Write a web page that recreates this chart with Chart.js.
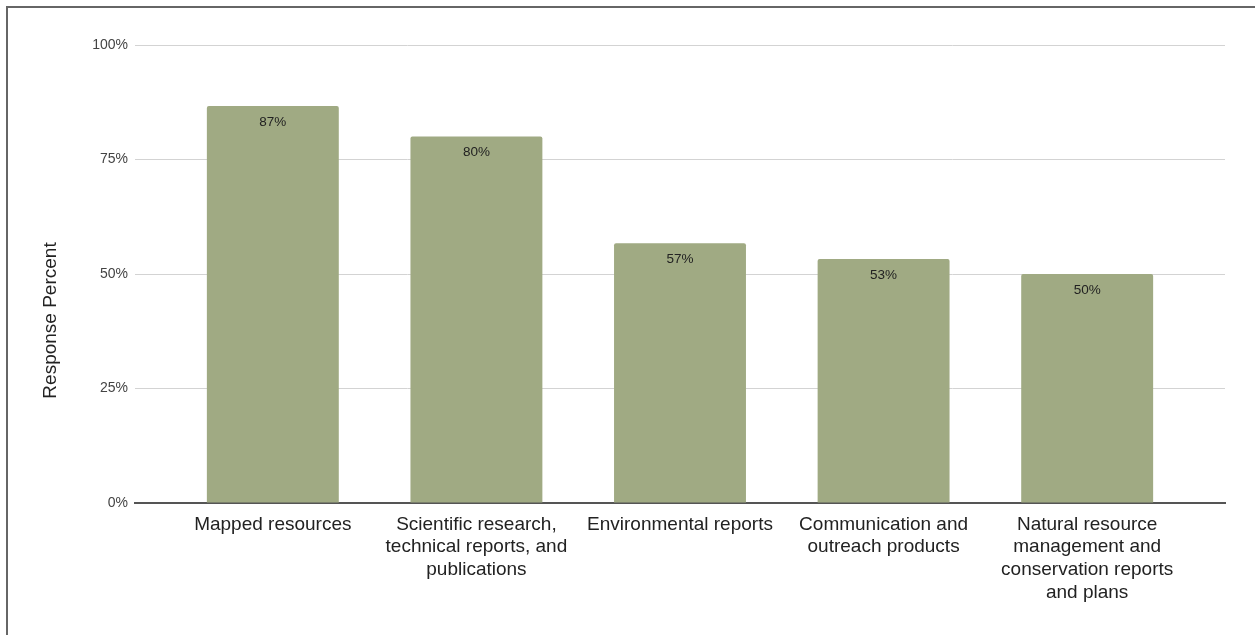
<!DOCTYPE html>
<html>
<head>
<meta charset="utf-8">
<script src="https://cdn.jsdelivr.net/npm/chart.js@4/dist/chart.umd.min.js"></script>
<style>
  html, body { margin: 0; padding: 0; background: #fff; overflow: hidden; }
  #frame {
    position: absolute; left: 6px; top: 6px; width: 1400px; height: 800px;
    border-left: 2px solid #666; border-top: 2px solid #666;
  }
  #chart { position: absolute; left: 0; top: 0; }
</style>
</head>
<body>
<div id="frame"></div>
<canvas id="chart" width="1255" height="635"></canvas>
<script>
// survey responses, share of respondents per product type
const categories = [
  ['Mapped resources'],
  ['Scientific research,', 'technical reports, and', 'publications'],
  ['Environmental reports'],
  ['Communication and', 'outreach products'],
  ['Natural resource', 'management and', 'conservation reports', 'and plans']
];
const responsePercent = [86.7, 80, 56.7, 53.3, 50];
const yTicks = [0, 25, 50, 75, 100];

const barColor = '#a0aa83';
const fontFamily = '"Liberation Sans", Arial, sans-serif';

// extra room on both ends of the category axis, in categories
const edgePad = 0.177;

const widenCategoryAxis = {
  id: 'widenCategoryAxis',
  afterLayout(chart) {
    const x = chart.scales.x;
    x._startValue -= edgePad;
    x._valueRange += edgePad * 2;
  }
};

// percentage text just inside the top of each bar
const barValues = {
  id: 'barValues',
  afterDatasetsDraw(chart) {
    const ctx = chart.ctx;
    const meta = chart.getDatasetMeta(0);
    ctx.save();
    ctx.font = '13.5px ' + fontFamily;
    ctx.fillStyle = '#222';
    ctx.textAlign = 'center';
    ctx.textBaseline = 'middle';
    meta.data.forEach((bar, i) => {
      const v = chart.data.datasets[0].data[i];
      ctx.fillText(Math.round(v) + '%', bar.x, bar.y + 16);
    });
    ctx.restore();
  }
};

// axis title sits at the middle of the whole canvas, not the plot
const yTitle = {
  id: 'yTitle',
  afterDraw(chart) {
    const ctx = chart.ctx;
    ctx.save();
    ctx.translate(51, chart.height / 2 + 3);
    ctx.rotate(-Math.PI / 2);
    ctx.font = '19px ' + fontFamily;
    ctx.fillStyle = '#222';
    ctx.textAlign = 'center';
    ctx.textBaseline = 'middle';
    ctx.fillText('Response Percent', 0, 0);
    ctx.restore();
  }
};

const ctx = document.getElementById('chart').getContext('2d');
new Chart(ctx, {
  type: 'bar',
  data: {
    labels: categories,
    datasets: [{
      label: 'Response Percent',
      data: responsePercent,
      backgroundColor: barColor,
      borderRadius: 2,
      borderSkipped: 'bottom',
      categoryPercentage: 1,
      barPercentage: 0.648
    }]
  },
  options: {
    responsive: false,
    animation: false,
    layout: {
      padding: { top: 45, right: 30, bottom: 0, left: 0 }
    },
    plugins: {
      legend: { display: false },
      tooltip: { enabled: false }
    },
    scales: {
      x: {
        offset: true,
        grid: { display: false, drawTicks: false },
        border: { display: true, color: '#555', width: 2 },
        ticks: {
          color: '#222',
          padding: 10,
          maxRotation: 0,
          autoSkip: false,
          font: { family: fontFamily, size: 19, lineHeight: 1.2 }
        },
        afterFit(scale) { scale.height = 132; }
      },
      y: {
        min: 0,
        max: 100,
        afterBuildTicks(scale) {
          scale.ticks = yTicks.map(v => ({ value: v }));
        },
        grid: { color: '#d3d3d3', lineWidth: 1, drawTicks: false },
        border: { display: false },
        ticks: {
          color: '#444',
          padding: 7,
          font: { family: fontFamily, size: 14 },
          callback: v => v + '%'
        },
        afterFit(scale) { scale.width = 135; }
      }
    }
  },
  plugins: [widenCategoryAxis, barValues, yTitle]
});
</script>
</body>
</html>
